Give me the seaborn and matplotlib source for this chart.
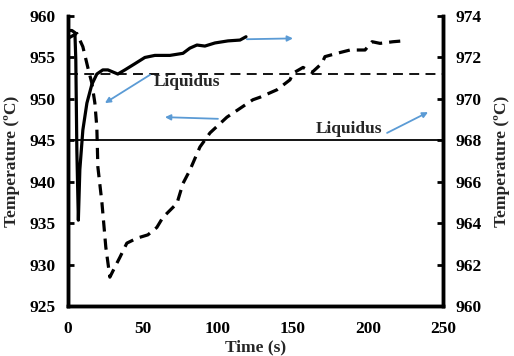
import numpy as np
import pandas as pd
import seaborn as sns
import matplotlib.pyplot as plt

# dashed curve (left axis)
time_dashed = [0, 6, 10, 13.3, 16, 18, 19.3, 20, 22.7, 25.3, 28, 31.3, 34.7, 39.3, 46, 53.3, 59.3,
               63.3, 72.7, 76.7, 81.3, 88, 94.7, 106, 123.3, 128, 139.3, 148, 150, 156.7, 162.7,
               169.3, 171.3, 179.3, 188, 198, 202.7, 208, 216.7, 223.3]
temp_dashed = [957.3, 957.9, 956.3, 953.8, 951.9, 949.5, 946.6, 941.8, 937.5, 932.1, 928.5, 929.7,
               930.9, 932.6, 933.2, 933.6, 934.5, 935.7, 937.4, 939.8, 941.4, 944.2, 945.9, 947.8,
               949.9, 950.2, 951.1, 952.3, 953.1, 953.8, 953.2, 954.3, 955.1, 955.5, 955.9, 955.9,
               956.9, 956.7, 956.9, 957.0]

# solid curve (right axis)
time_solid = [0, 2.7, 4.7, 5.3, 6, 7, 8, 10, 12.7, 16, 19.3, 23.3, 26.7, 30, 33.3, 38, 44.7, 51.3,
              58, 68, 76.7, 81.3, 86, 91.3, 98, 106.7, 114.7, 118.7]
temp_solid = [973.3, 973.3, 973.2, 971.9, 967.5, 964.15, 966.6, 968.5, 969.8, 970.7, 971.2, 971.4,
              971.4, 971.3, 971.2, 971.4, 971.7, 972.0, 972.1, 972.1, 972.2, 972.45, 972.6, 972.55,
              972.7, 972.8, 972.84, 973.0]

liquidus_left = 953     # dashed liquidus
liquidus_right = 968    # solid liquidus

x_ticks = [0, 50, 100, 150, 200, 250]
left_ticks = [925, 930, 935, 940, 945, 950, 955, 960]
right_ticks = [960, 962, 964, 966, 968, 970, 972, 974]

sns.set_theme(style="white")
plt.rcParams['font.family'] = ['Liberation Serif', 'DejaVu Serif']
plt.rcParams['font.weight'] = 'bold'

fig = plt.figure(figsize=(5.14, 3.56), dpi=100)
ax = fig.add_axes([0.132, 0.140, 0.730, 0.815])
ax2 = ax.twinx()

df_d = pd.DataFrame({'t': time_dashed, 'T': temp_dashed})
df_s = pd.DataFrame({'t': time_solid, 'T': temp_solid})

sns.lineplot(data=df_d, x='t', y='T', ax=ax, color='black', lw=2.3, sort=False,
             linestyle=(0, (3.5, 2.2)))
sns.lineplot(data=df_s, x='t', y='T', ax=ax2, color='black', lw=2.3, sort=False)

ax.axhline(liquidus_left, color='black', lw=1.3, linestyle=(0, (5.5, 3.5)))
ax2.axhline(liquidus_right, color='black', lw=1.3)

ax.set_xlim(0, 250)
ax.set_ylim(925, 960)
ax2.set_ylim(960, 974)
ax.set_xticks(x_ticks)
ax.set_yticks(left_ticks)
ax2.set_yticks(right_ticks)

for a in (ax, ax2):
    a.spines['top'].set_visible(False)
    for s in ('left', 'right', 'bottom'):
        a.spines[s].set_linewidth(2.5)
        a.spines[s].set_color('black')
    a.tick_params(direction='in', length=4, width=2, labelsize=12.5, colors='black')
    for lbl in a.get_xticklabels() + a.get_yticklabels():
        lbl.set_fontweight('bold')
ax.tick_params(axis='x', pad=11)
ax.tick_params(axis='y', pad=9)
ax2.tick_params(axis='y', pad=9)

ax.set_xlabel('Time (s)', fontsize=12.5, fontweight='bold', labelpad=1.5)
ax.set_ylabel('Temperature (ºC)', fontsize=12.5, fontweight='bold', labelpad=7)
ax2.set_ylabel('Temperature (ºC)', fontsize=12.5, fontweight='bold', labelpad=9)

# annotations (left-axis data coordinates)
arrow_col = '#5b9bd5'
ax.text(79.3, 952.0, 'Liquidus', ha='center', va='center', fontsize=12.5, fontweight='bold', zorder=5)
ax.text(187.3, 946.4, 'Liquidus', ha='center', va='center', fontsize=12.5, fontweight='bold', zorder=5)
arrows = [((54.7, 952.9), (24.7, 949.5)),
          ((100, 947.6), (64.7, 947.8)),
          ((119.3, 957.2), (150, 957.3)),
          ((212.7, 945.9), (240, 948.4))]
for start, end in arrows:
    ax.annotate('', xy=end, xytext=start,
                arrowprops=dict(arrowstyle='-|>', color=arrow_col, lw=1.3,
                                mutation_scale=8, shrinkA=0, shrinkB=0), zorder=6)

plt.savefig('out.png', dpi=100)
